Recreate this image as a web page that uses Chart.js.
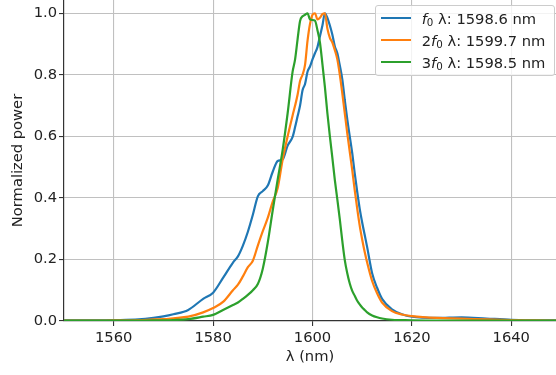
<!DOCTYPE html>
<html>
<head>
<meta charset="utf-8">
<script src="https://cdn.jsdelivr.net/npm/chart.js@4.4.1/dist/chart.umd.min.js"></script>
<style>
  body { margin: 0; background: #fff; }
  #wrap { position: relative; width: 556px; height: 375px; }
  #legend {
    position: absolute; left: 375px; top: 5px; width: 180px; height: 71px;
    box-sizing: border-box; border: 1px solid #cccccc; border-radius: 3px;
    background: rgba(255, 255, 255, 0.8); padding: 1px 0 0 5px;
    font-family: 'DejaVu Sans'; font-size: 14.7px; color: #222;
  }
  sub { font-size: 70%; position: relative; top: 0.22em; line-height: 0; vertical-align: baseline; }
</style>
</head>
<body>
<div id="wrap">
  <canvas id="chart" width="556" height="375"></canvas>
  <div id="legend"></div>
</div>
<script>
const COLOURS = ['#1f77b4', '#ff7f0e', '#2ca02c'];

const wavelengths = [1550, 1555, 1560, 1565, 1568, 1570, 1572, 1575, 1578, 1580,
  1582, 1584, 1585, 1586, 1587, 1588, 1589, 1590, 1591, 1592,
  1593, 1594, 1595, 1596, 1596.5, 1597, 1597.5, 1598, 1598.5, 1599,
  1599.5, 1600, 1600.5, 1601, 1601.5, 1602, 1602.5, 1603, 1603.5, 1604,
  1604.5, 1605, 1605.5, 1606, 1606.5, 1607, 1607.5, 1608, 1608.5, 1609,
  1609.5, 1610, 1610.5, 1611, 1612, 1613, 1614, 1616, 1618, 1620,
  1625, 1630, 1635, 1640, 1645, 1649];

const powerF0 = [0.002, 0.002, 0.003, 0.005, 0.010, 0.015, 0.022, 0.036, 0.072, 0.092,
  0.14, 0.19, 0.21, 0.245, 0.29, 0.345, 0.405, 0.422, 0.44, 0.485,
  0.52, 0.525, 0.57, 0.598, 0.63, 0.665, 0.70, 0.75, 0.77, 0.81,
  0.827, 0.85, 0.87, 0.89, 0.925, 0.96, 1.0, 0.985, 0.96, 0.93,
  0.892, 0.87, 0.83, 0.785, 0.718, 0.655, 0.60, 0.545, 0.48, 0.42,
  0.365, 0.32, 0.28, 0.24, 0.155, 0.108, 0.072, 0.038, 0.022, 0.014,
  0.010, 0.012, 0.008, 0.004, 0.002, 0.002];

const power2F0 = [0.001, 0.001, 0.002, 0.003, 0.005, 0.006, 0.009, 0.014, 0.028, 0.042,
  0.062, 0.100, 0.118, 0.145, 0.175, 0.196, 0.245, 0.292, 0.335, 0.388,
  0.432, 0.525, 0.60, 0.668, 0.70, 0.735, 0.78, 0.80, 0.832, 0.91,
  0.965, 0.995, 1.0, 0.98, 0.985, 0.997, 1.0, 0.95, 0.92, 0.905,
  0.88, 0.85, 0.80, 0.74, 0.675, 0.61, 0.55, 0.49, 0.425, 0.365,
  0.31, 0.265, 0.225, 0.19, 0.13, 0.09, 0.06, 0.032, 0.021, 0.016,
  0.010, 0.008, 0.005, 0.003, 0.002, 0.001];

const power3F0 = [0.001, 0.001, 0.001, 0.001, 0.002, 0.002, 0.003, 0.006, 0.014, 0.02,
  0.036, 0.052, 0.06, 0.072, 0.085, 0.10, 0.12, 0.17, 0.255, 0.36,
  0.46, 0.556, 0.675, 0.81, 0.85, 0.915, 0.975, 0.99, 0.995, 1.0,
  0.98, 0.978, 0.976, 0.945, 0.905, 0.835, 0.76, 0.675, 0.60, 0.53,
  0.458, 0.395, 0.33, 0.26, 0.198, 0.155, 0.122, 0.098, 0.082, 0.066,
  0.054, 0.044, 0.036, 0.028, 0.018, 0.012, 0.008, 0.004, 0.003, 0.002,
  0.001, 0.001, 0.001, 0.001, 0.001, 0.001];

const harmonics = ['', '2', '3'];
const centreWavelengths = ['1598.6', '1599.7', '1598.5'];

const xTicks = [1560, 1580, 1600, 1620, 1640];
const yTicks = [0.0, 0.2, 0.4, 0.6, 0.8, 1.0];

const FONT = { family: 'DejaVu Sans', size: 14.7 };
const GRID_COLOUR = '#c0c0c0';
const SPINE_COLOUR = '#333333';

function makeLegend(id) {
  const legendContainer = document.getElementById(id);
  harmonics.forEach((h, i) => {
    const row = document.createElement('div');
    row.style.display = 'flex';
    row.style.alignItems = 'center';
    row.style.height = '22px';

    const line = document.createElement('span');
    line.style.display = 'inline-block';
    line.style.width = '30px';
    line.style.height = '2.2px';
    line.style.background = COLOURS[i];
    line.style.marginRight = '10.7px';

    const text = document.createElement('span');
    text.style.whiteSpace = 'nowrap';
    text.innerHTML = h + '<i>f</i><sub>0</sub> λ: ' + centreWavelengths[i] + ' nm';

    row.appendChild(line);
    row.appendChild(text);
    legendContainer.appendChild(row);
  });
}

const series = [powerF0, power2F0, power3F0];

const ctx = document.getElementById('chart');
const chart = new Chart(ctx, {
  type: 'line',
  data: {
    datasets: series.map((values, i) => ({
      label: harmonics[i] + 'f0',
      data: wavelengths.map((x, j) => ({ x: x, y: values[j] })),
      borderColor: COLOURS[i],
      borderWidth: 2.2,
      pointRadius: 0,
      cubicInterpolationMode: 'monotone',
      fill: false,
      order: 2 - i,
    })),
  },
  options: {
    responsive: false,
    animation: false,
    layout: { padding: 0 },
    plugins: {
      legend: { display: false },
      tooltip: { enabled: false },
    },
    scales: {
      x: {
        type: 'linear',
        min: 1550,
        max: 1649,
        afterBuildTicks: scale => { scale.ticks = xTicks.map(v => ({ value: v })); },
        afterFit: scale => { scale.height = 54; scale.paddingLeft = 0; scale.paddingRight = 0; },
        ticks: { font: FONT, color: '#222', padding: 3, maxRotation: 0, callback: v => String(v) },
        grid: { color: GRID_COLOUR, lineWidth: 1.1, tickColor: SPINE_COLOUR, tickLength: 5 },
        border: { color: SPINE_COLOUR, width: 1.2 },
        title: { display: true, text: 'λ (nm)', font: FONT, color: '#222', padding: { top: 0, bottom: 9 } },
      },
      y: {
        type: 'linear',
        min: 0,
        max: 1.043,
        afterBuildTicks: scale => { scale.ticks = yTicks.map(v => ({ value: v })); },
        afterFit: scale => { scale.width = 64; scale.paddingTop = 0; scale.paddingBottom = 0; },
        ticks: { font: FONT, color: '#222', padding: 2, callback: v => v.toFixed(1) },
        grid: { color: GRID_COLOUR, lineWidth: 1.1, tickColor: SPINE_COLOUR, tickLength: 5 },
        border: { color: SPINE_COLOUR, width: 1.2 },
        title: { display: true, text: 'Normalized power', font: FONT, color: '#222', padding: { top: 9, bottom: 0 } },
      },
    },
  },
});

makeLegend('legend');
</script>
</body>
</html>
